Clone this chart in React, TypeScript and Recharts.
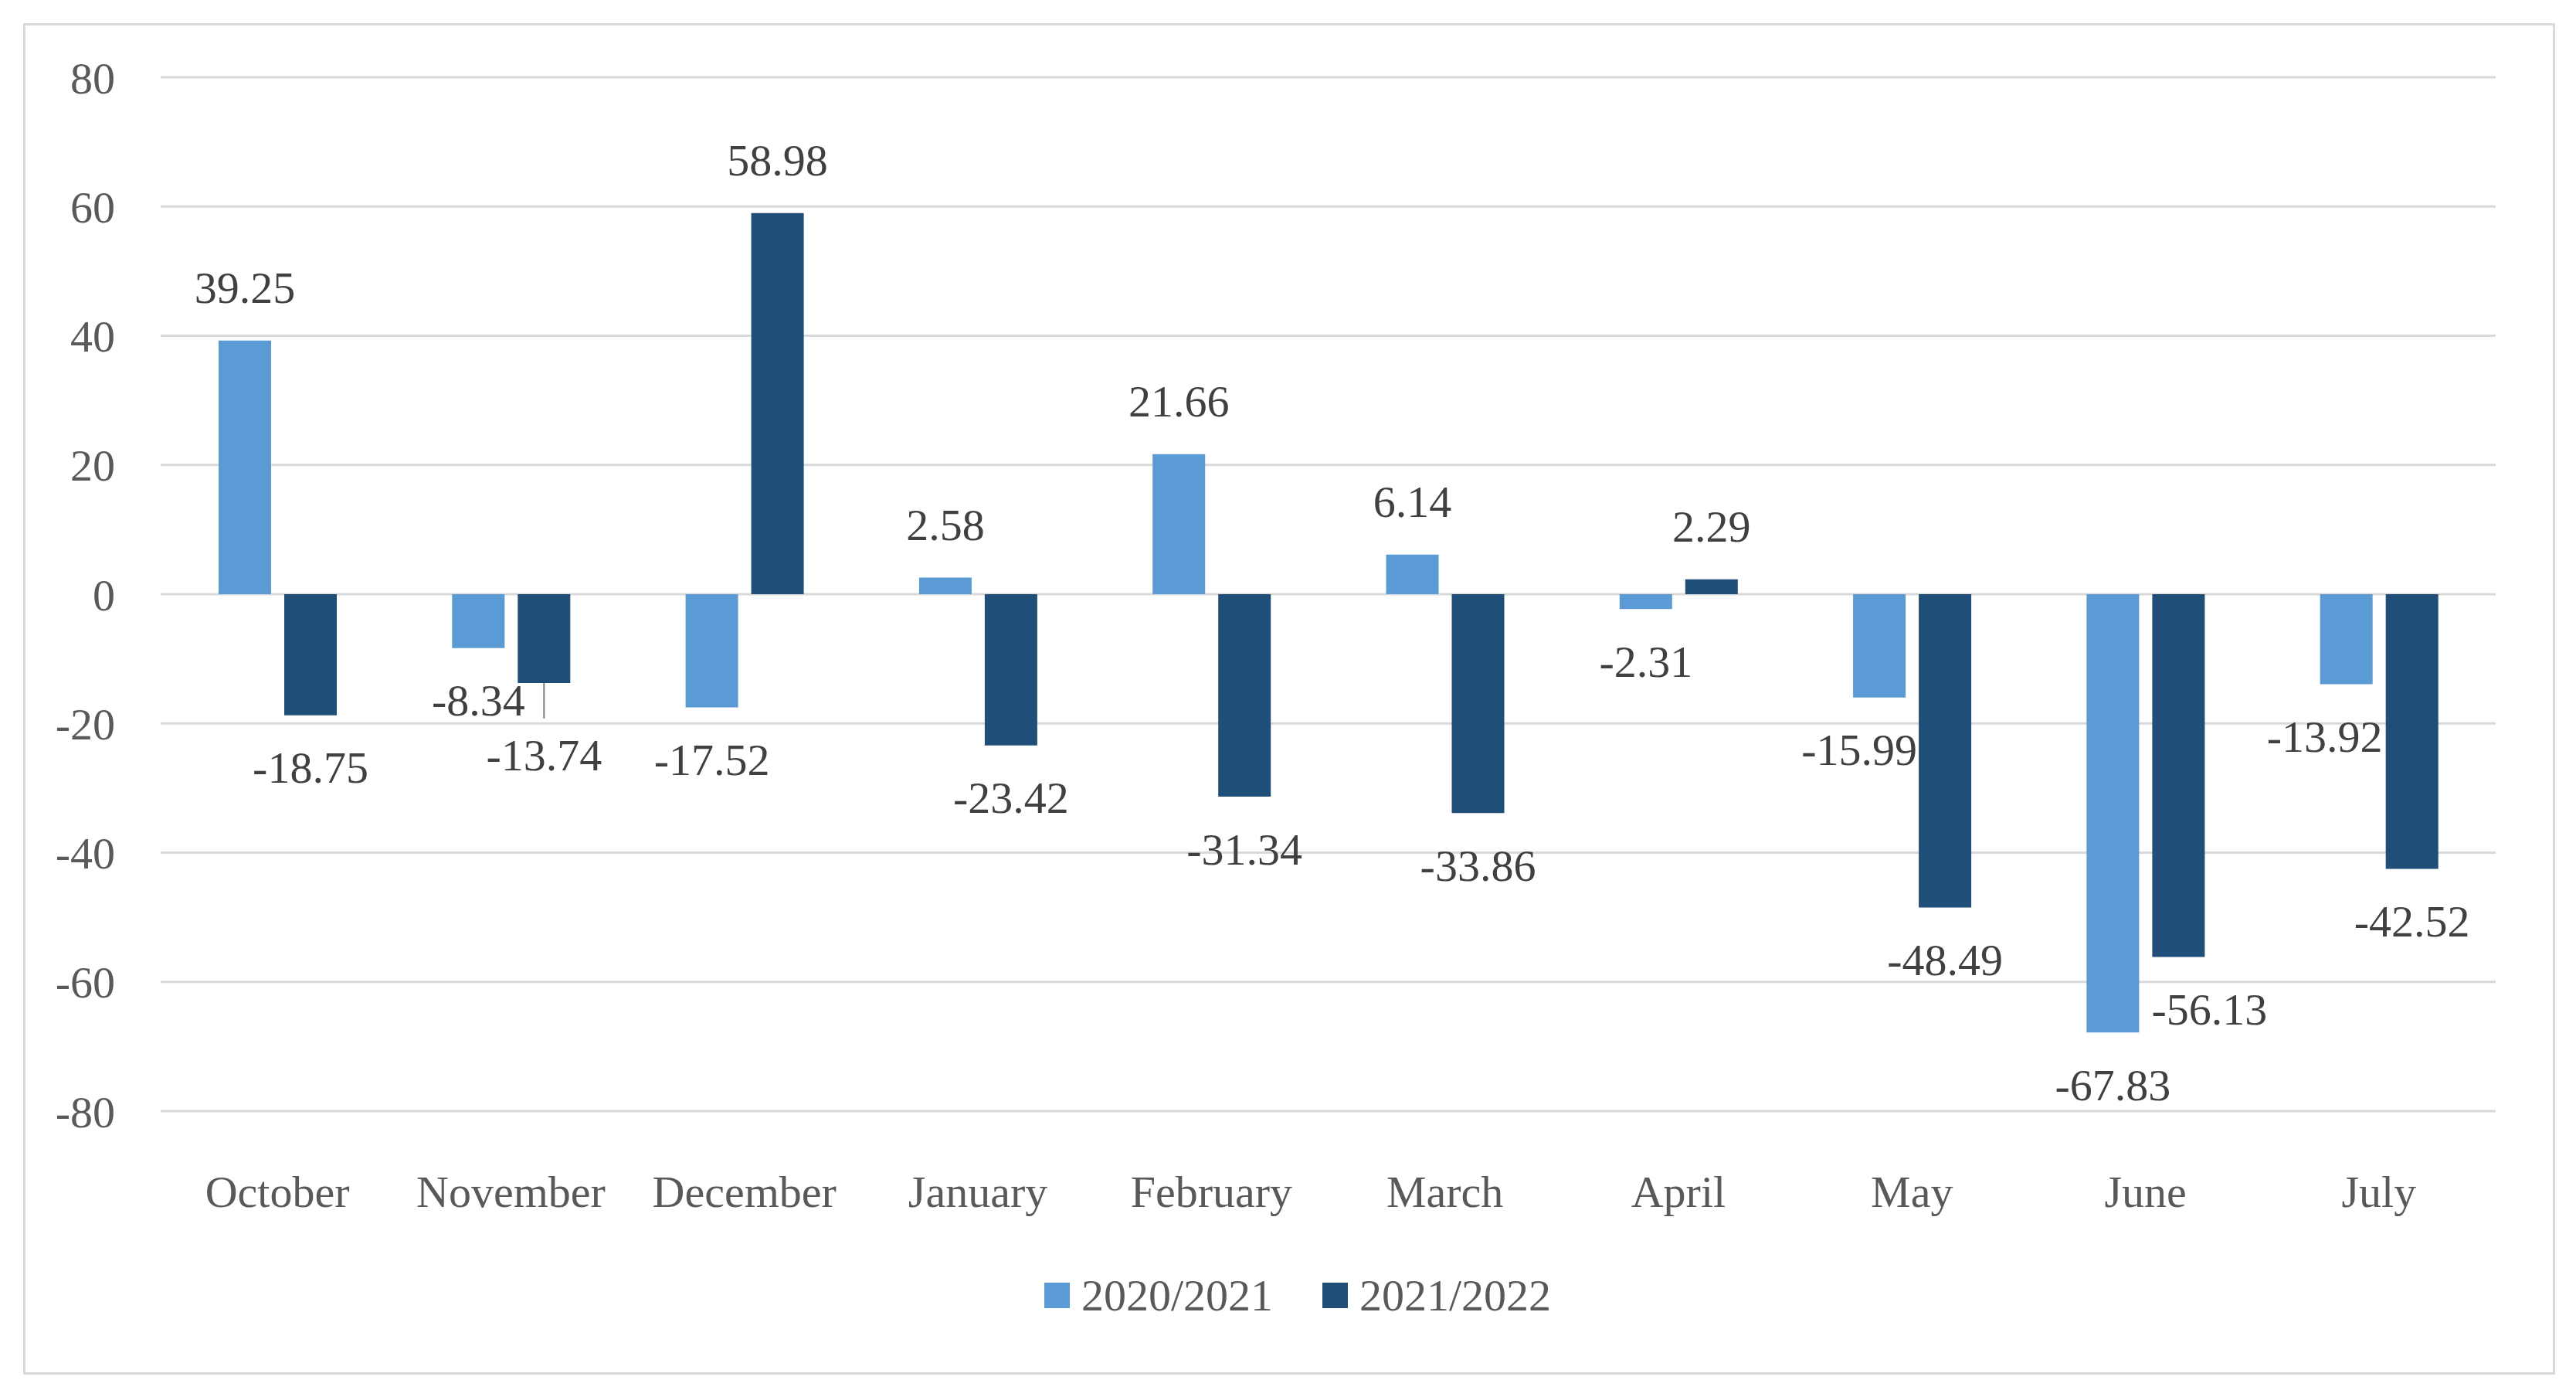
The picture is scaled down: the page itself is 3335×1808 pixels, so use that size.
import { Bar, BarChart, CartesianGrid, LabelList, XAxis, YAxis } from "recharts";

const months = ["October", "November", "December", "January", "February", "March", "April", "May", "June", "July"];
const season2020 = [39.25, -8.34, -17.52, 2.58, 21.66, 6.14, -2.31, -15.99, -67.83, -13.92];
const season2021 = [-18.75, -13.74, 58.98, -23.42, -31.34, -33.86, 2.29, -48.49, -56.13, -42.52];
const seriesNames = ["2020/2021", "2021/2022"];
const yTicks = [-80, -60, -40, -20, 0, 20, 40, 60, 80];

const LIGHT = "#5b9bd5";
const DARK = "#1f4e79";
const FONT = '"Palatino Linotype", "Book Antiqua", Palatino, "Liberation Serif", serif';

// Excel nudged a few labels to avoid overlaps: [dx, dy] by series/index
const nudges: Record<string, [number, number]> = {
  "b-1": [0, 26],
  "a-7": [-26, 0],
  "b-8": [40, 0],
  "a-9": [-28, 0],
};

const data = months.map((m, i) => ({ month: m, a: season2020[i], b: season2021[i] }));

function makeLabel(key: string) {
  return (props: any) => {
    const { x, y, width, height, value, index } = props;
    const top = Math.min(y, y + height);
    const bottom = Math.max(y, y + height);
    const cx = x + width / 2;
    const [dx, dy] = nudges[`${key}-${index}`] || [0, 0];
    const ly = value >= 0 ? top - 68 : bottom + 68 + dy;
    return (
      <g>
        {dy !== 0 && (
          <line x1={cx} x2={cx} y1={bottom} y2={ly - 48} stroke="#7f7f7f" strokeWidth={2} />
        )}
        <text
          x={cx + dx}
          y={ly}
          textAnchor="middle"
          dominantBaseline="central"
          fill="#404040"
          fontSize={58}
          fontFamily={FONT}
        >
          {value}
        </text>
      </g>
    );
  };
}

export default function App() {
  return (
    <div style={{ position: "absolute", left: 0, top: 0, width: 3335, height: 1808, background: "#fff" }}>
      <div
        style={{
          position: "absolute",
          left: 30,
          top: 30,
          width: 3272,
          height: 1743,
          border: "3px solid #d9d9d9",
        }}
      />
      <div style={{ position: "absolute", left: 0, top: 0 }}>
        <BarChart
          width={3335}
          height={1808}
          data={data}
          margin={{ top: 100, right: 104, bottom: 210, left: 0 }}
          barSize={68}
          barGap={17}
        >
          <CartesianGrid horizontal vertical={false} stroke="#d9d9d9" strokeWidth={3} />
          <XAxis
            dataKey="month"
            axisLine={false}
            tickLine={false}
            interval={0}
            tickSize={6}
            tickMargin={77}
            height={160}
            tick={{ fill: "#595959", fontSize: 58, fontFamily: FONT }}
          />
          <YAxis
            domain={[-80, 80]}
            ticks={yTicks}
            axisLine={false}
            tickLine={false}
            width={208}
            tickSize={6}
            tickMargin={53}
            tick={{ fill: "#595959", fontSize: 58, fontFamily: FONT }}
          />
          <Bar dataKey="a" name={seriesNames[0]} fill={LIGHT} isAnimationActive={false}>
            <LabelList dataKey="a" content={makeLabel("a")} />
          </Bar>
          <Bar dataKey="b" name={seriesNames[1]} fill={DARK} isAnimationActive={false}>
            <LabelList dataKey="b" content={makeLabel("b")} />
          </Bar>
        </BarChart>
      </div>
      <div
        style={{
          position: "absolute",
          left: 1180,
          width: 1000,
          top: 1636,
          height: 80,
          display: "flex",
          justifyContent: "center",
          alignItems: "center",
          gap: 64,
          fontFamily: FONT,
          fontSize: 58,
          color: "#595959",
        }}
      >
        {seriesNames.map((n, i) => (
          <div key={n} style={{ display: "flex", alignItems: "center", gap: 15 }}>
            <span style={{ width: 33, height: 33, background: i === 0 ? LIGHT : DARK, display: "inline-block" }} />
            <span>{n}</span>
          </div>
        ))}
      </div>
    </div>
  );
}
